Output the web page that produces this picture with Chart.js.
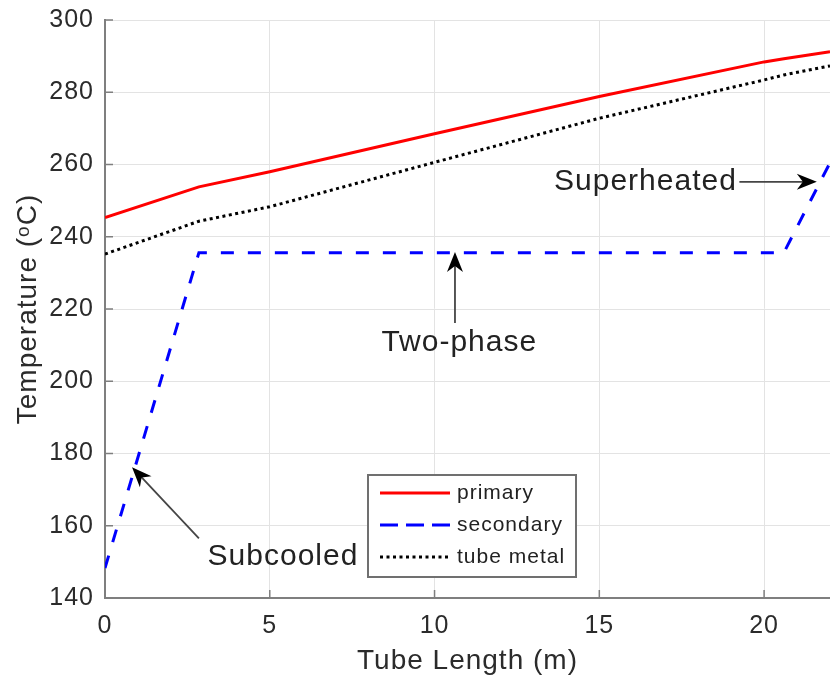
<!DOCTYPE html>
<html>
<head>
<meta charset="utf-8">
<script src="https://cdn.jsdelivr.net/npm/chart.js@4.4.0/dist/chart.umd.min.js"></script>
<style>
html, body { margin: 0; padding: 0; background: #fff; }
#wrap { width: 830px; height: 679px; position: relative; }
</style>
</head>
<body>
<div id="wrap"><canvas id="temp-chart"></canvas></div>
<script>
// temperatures along the tube (m, degC)
const tubeLength = [0, 2.85, 5, 10, 15, 20, 20.6, 22];
const primaryTemp = [245.3, 253.8, 258.0, 268.5, 278.8, 288.4, 289.3, 291.2];
const metalTemp = [235.2, 244.3, 248.3, 260.6, 272.8, 283.4, 284.8, 287.3];
const secondaryLength = [0, 2.85, 20.6, 22];
const secondaryTemp = [148.3, 235.6, 235.6, 260.5];
const xTicks = [0, 5, 10, 15, 20];
const yTicks = [140, 160, 180, 200, 220, 240, 260, 280, 300];

const FONT = '"Liberation Sans", Arial, Helvetica, sans-serif';

// region labels with arrows, in data units
const notes = [
    { text: 'Superheated', tx: 16.4, ty: 255.3, from: [19.25, 255.2], to: [21.6, 255.2] },
    { text: 'Two-phase', tx: 10.75, ty: 210.8, from: [10.62, 216.1], to: [10.62, 235.8] },
    { text: 'Subcooled', tx: 5.4, ty: 151.5, from: [2.85, 156.5], to: [0.82, 176.2] },
];

const pts = (xs, ys) => xs.map((v, i) => ({ x: v, y: ys[i] }));

// slightly wider glyph spacing for all chart text
const spacing = {
    id: 'spacing',
    beforeDraw(chart) {
        chart.ctx.letterSpacing = '1px';
    }
};

const innerTicks = {
    id: 'innerTicks',
    afterDraw(chart) {
        const { ctx, scales: { x, y } } = chart;
        ctx.save();
        ctx.strokeStyle = '#7f7f7f';
        ctx.lineWidth = 1.5;
        ctx.beginPath();
        xTicks.forEach(v => {
            const px = x.getPixelForValue(v);
            ctx.moveTo(px, y.bottom);
            ctx.lineTo(px, y.bottom - 8);
        });
        yTicks.forEach(v => {
            const py = y.getPixelForValue(v);
            ctx.moveTo(x.left, py);
            ctx.lineTo(x.left + 8, py);
        });
        ctx.stroke();
        ctx.restore();
    }
};

const arrowNotes = {
    id: 'arrowNotes',
    afterDatasetsDraw(chart) {
        const { ctx, scales: { x, y } } = chart;
        ctx.save();
        notes.forEach(n => {
            const x0 = x.getPixelForValue(n.from[0]), y0 = y.getPixelForValue(n.from[1]);
            const x1 = x.getPixelForValue(n.to[0]), y1 = y.getPixelForValue(n.to[1]);
            const ang = Math.atan2(y1 - y0, x1 - x0);
            ctx.strokeStyle = '#454545';
            ctx.lineWidth = 1.8;
            ctx.beginPath();
            ctx.moveTo(x0, y0);
            ctx.lineTo(x1 - Math.cos(ang) * 12, y1 - Math.sin(ang) * 12);
            ctx.stroke();

            ctx.save();
            ctx.translate(x1, y1);
            ctx.rotate(ang);
            ctx.fillStyle = '#000';
            ctx.beginPath();
            ctx.moveTo(0, 0);
            ctx.lineTo(-20, -8);
            ctx.lineTo(-14, 0);
            ctx.lineTo(-20, 8);
            ctx.closePath();
            ctx.fill();
            ctx.restore();

            ctx.fillStyle = '#222';
            ctx.font = '30px ' + FONT;
            ctx.letterSpacing = '1px';
            ctx.textAlign = 'center';
            ctx.textBaseline = 'middle';
            ctx.fillText(n.text, x.getPixelForValue(n.tx), y.getPixelForValue(n.ty));
        });
        ctx.restore();
    }
};

const boxLegend = {
    id: 'boxLegend',
    afterDraw(chart) {
        const { ctx } = chart;
        const left = 368, top = 475, w = 208, h = 102;
        ctx.save();
        ctx.fillStyle = '#fff';
        ctx.fillRect(left, top, w, h);
        ctx.strokeStyle = '#707070';
        ctx.lineWidth = 2;
        ctx.strokeRect(left, top, w, h);
        const dashes = [[], [18, 8], [3, 3.5]];
        chart.data.datasets.forEach((ds, i) => {
            const ry = top + 18 + i * 32;
            ctx.strokeStyle = ds.borderColor;
            ctx.lineWidth = 3;
            ctx.setLineDash(dashes[i]);
            ctx.beginPath();
            ctx.moveTo(left + 12, ry);
            ctx.lineTo(left + 82, ry);
            ctx.stroke();
            ctx.setLineDash([]);
            ctx.fillStyle = '#222';
            ctx.font = '21px ' + FONT;
            ctx.letterSpacing = '1px';
            ctx.textAlign = 'left';
            ctx.textBaseline = 'middle';
            ctx.fillText(ds.label, left + 89, ry);
        });
        ctx.restore();
    }
};

const ctx = document.getElementById('temp-chart').getContext('2d');
const chart = new Chart(ctx, {
    type: 'line',
    data: {
        datasets: [{
            label: 'primary',
            data: pts(tubeLength, primaryTemp),
            borderColor: '#ff0000',
            borderWidth: 3,
            pointRadius: 0,
            fill: false,
        }, {
            label: 'secondary',
            data: pts(secondaryLength, secondaryTemp),
            borderColor: '#0000ff',
            borderWidth: 3,
            borderDash: [13, 14],
            pointRadius: 0,
            fill: false,
        }, {
            label: 'tube metal',
            data: pts(tubeLength, metalTemp),
            borderColor: '#000000',
            borderWidth: 3,
            borderDash: [3, 3.5],
            pointRadius: 0,
            fill: false,
        }],
    },
    options: {
        responsive: true,
        maintainAspectRatio: false,
        animation: false,
        layout: { padding: { left: 0, top: 20, right: 0, bottom: 0 } },
        plugins: {
            legend: { display: false },
            tooltip: { enabled: false },
        },
        scales: {
            x: {
                type: 'linear',
                min: 0,
                max: 22,
                afterBuildTicks: s => { s.ticks = xTicks.map(v => ({ value: v })); },
                afterFit: s => { s.height = 81; s.paddingLeft = 0; s.paddingRight = 0; },
                grid: { color: '#e3e3e3', lineWidth: 1, drawTicks: false },
                border: { color: '#7f7f7f', width: 2 },
                ticks: { color: '#2b2b2b', font: { size: 25, family: FONT }, padding: 13, maxRotation: 0 },
                title: {
                    display: true,
                    text: 'Tube Length (m)',
                    color: '#2b2b2b',
                    font: { size: 28, family: FONT },
                    padding: { top: 0, bottom: 1 },
                },
            },
            y: {
                min: 140,
                max: 300,
                afterBuildTicks: s => { s.ticks = yTicks.map(v => ({ value: v })); },
                afterFit: s => { s.width = 105; s.paddingTop = 0; s.paddingBottom = 0; },
                grid: { color: '#e3e3e3', lineWidth: 1, drawTicks: false },
                border: { color: '#7f7f7f', width: 2 },
                ticks: { color: '#2b2b2b', font: { size: 25, family: FONT }, padding: 11 },
                title: {
                    display: true,
                    text: 'Temperature (\u1D52C)',
                    color: '#2b2b2b',
                    font: { size: 28, family: FONT },
                    padding: { top: 11, bottom: 0 },
                },
            },
        },
    },
    plugins: [spacing, arrowNotes, innerTicks, boxLegend],
});
</script>
</body>
</html>
